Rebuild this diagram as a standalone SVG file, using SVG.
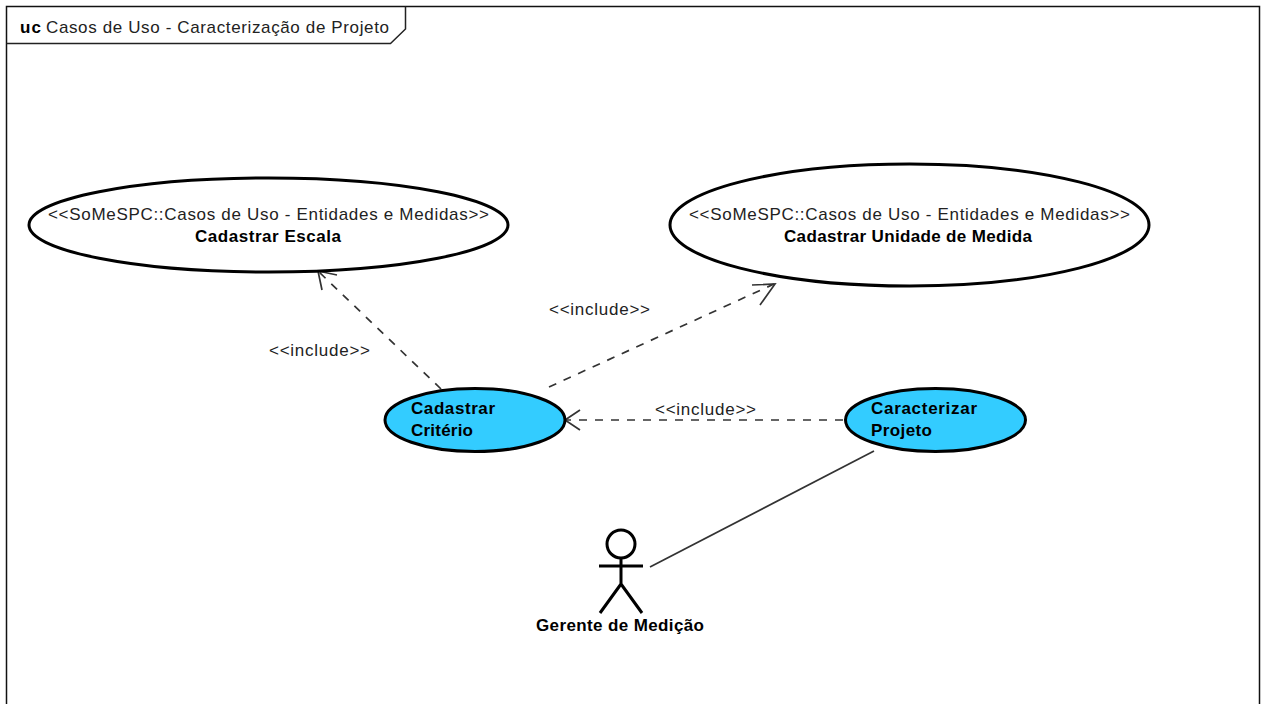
<svg xmlns="http://www.w3.org/2000/svg" width="1261" height="704" viewBox="0 0 1261 704">
<style>
text{font-family:"Liberation Sans",Arial,sans-serif;font-size:17px;fill:#222}
.b{font-weight:bold;fill:#000}
.m{text-anchor:middle}
.u{stroke:#000;stroke-width:3;fill:#fff}
.c{stroke:#000;stroke-width:3;fill:#33ccff}
.d{stroke:#333;stroke-width:1.700;fill:none;stroke-dasharray:8 8}
.l{stroke:#333;stroke-width:1.700;fill:none}
.a{stroke:#000;stroke-width:3;fill:none}
</style>
<rect width="1261" height="704" fill="#fff"/>
<g id="frame">
<path d="M6.500 704V6.500H1259.500V704" fill="none" stroke="#111" stroke-width="1.500"/>
<path d="M6.500 43.500H390.500L405.500 29V6.500" fill="none" stroke="#222" stroke-width="1.500"/>
<text x="20" y="33" class="b" textLength="21" lengthAdjust="spacing">uc</text>
<text x="46" y="33" textLength="343" lengthAdjust="spacing">Casos de Uso - Caracterização de Projeto</text>
</g>
<g id="connectors">
<path class="d" d="M441 389L319 272"/>
<path class="l" d="M322 290L318 271L337 275"/>
<path class="d" d="M549 387L774 284"/>
<path class="l" d="M752 285L775 284L760 305"/>
<path class="d" d="M843 420H565"/>
<path class="l" d="M580 410L565 420L580 430"/>
<path class="l" d="M650 567L874 451"/>
<text x="269" y="356" textLength="101" lengthAdjust="spacing">&lt;&lt;include&gt;&gt;</text>
<text x="549" y="315" textLength="101" lengthAdjust="spacing">&lt;&lt;include&gt;&gt;</text>
<text x="655" y="415" textLength="101" lengthAdjust="spacing">&lt;&lt;include&gt;&gt;</text>
</g>
<g id="cadastrar-escala">
<ellipse class="u" cx="268.500" cy="225" rx="239.500" ry="47"/>
<text x="48" y="220" textLength="441" lengthAdjust="spacing">&lt;&lt;SoMeSPC::Casos de Uso - Entidades e Medidas&gt;&gt;</text>
<text x="195" y="242" class="b" textLength="146" lengthAdjust="spacing">Cadastrar Escala</text>
</g>
<g id="cadastrar-unidade">
<ellipse class="u" cx="909.500" cy="225" rx="239.500" ry="61"/>
<text x="689" y="220" textLength="441" lengthAdjust="spacing">&lt;&lt;SoMeSPC::Casos de Uso - Entidades e Medidas&gt;&gt;</text>
<text x="784" y="242" class="b" textLength="248" lengthAdjust="spacing">Cadastrar Unidade de Medida</text>
</g>
<g id="cadastrar-criterio">
<ellipse class="c" cx="475" cy="420" rx="90" ry="31.500"/>
<text x="411" y="414" class="b" textLength="84" lengthAdjust="spacing">Cadastrar</text>
<text x="411" y="436" class="b" textLength="62" lengthAdjust="spacing">Critério</text>
</g>
<g id="caracterizar-projeto">
<ellipse class="c" cx="935.500" cy="420" rx="90" ry="31.500"/>
<text x="871" y="414" class="b" textLength="106" lengthAdjust="spacing">Caracterizar</text>
<text x="871" y="436" class="b" textLength="61" lengthAdjust="spacing">Projeto</text>
</g>
<g id="gerente">
<circle class="a" cx="621" cy="544" r="14"/>
<path class="a" d="M621 558V584M599 566H643M621 584L600 613M621 584L642 613"/>
<text x="536" y="631" class="b" textLength="168" lengthAdjust="spacing">Gerente de Medição</text>
</g>
</svg>
